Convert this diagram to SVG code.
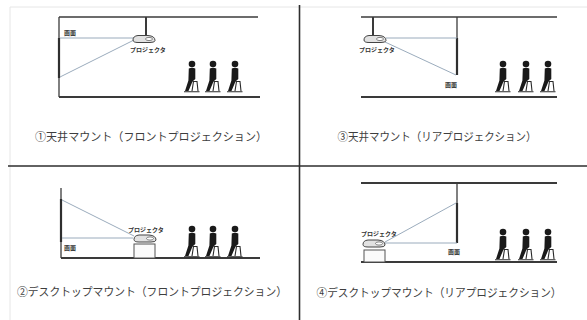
<svg xmlns="http://www.w3.org/2000/svg" xmlns:xlink="http://www.w3.org/1999/xlink" width="587" height="320" viewBox="0 0 587 320">
  <style>
    .frame { stroke: #e6e6e6; stroke-width: 1; fill: none; }
    .divider { stroke: #2e2e2e; stroke-width: 1.6; fill: none; }
    .room { stroke: #3c3c3c; stroke-width: 1.3; fill: none; }
    .floor { stroke: #3a3a3a; stroke-width: 2; fill: none; }
    .screen { stroke: #2f2f2f; stroke-width: 2.2; fill: none; }
    .beam { stroke: #8ea2b4; stroke-width: 0.9; fill: none; }
    .rod { stroke: #3a3a3a; stroke-width: 2; fill: none; }
    .proj { fill: #e2e2e2; stroke: #444; stroke-width: 1; }
    .table { fill: #fbfbfb; stroke: #555; stroke-width: 1; }
    .tag { font-family: "Noto Sans CJK JP", "Noto Sans", sans-serif; font-size: 6px; fill: #333; font-weight: bold; }
    .caption { font-family: "Noto Sans CJK JP", "Noto Sans", sans-serif; font-size: 11.5px; fill: #3e3e3e; }
  </style>
  <defs>
    <!-- seated viewer facing left, origin at head centre -->
    <g id="viewer">
      <circle cx="0" cy="0" r="3.3" fill="#1a1a1a"/>
      <path d="M -3.2,4.4 Q 0,3.2 3.3,4.4 L 3.3,15 L 0.5,17.5 L -3.5,27 L -7,27 L -3.6,16.5 Z" fill="#1a1a1a"/>
      <path d="M 0.5,17.5 L 5,17.5 L 6,27 M 1.5,17.5 L 0,27 M -8,27.8 L 7.5,27.8" stroke="#2a2a2a" stroke-width="1.1" fill="none"/>
    </g>
    <g id="projector">
      <path d="M -11,1.5 Q -11,-3 -4,-3.5 L 6,-3.5 Q 11,-3 11,1 Q 11,3.5 6,3.5 L -6,3.5 Q -11,3.5 -11,1.5 Z" class="proj"/>
      <ellipse cx="-5" cy="0" rx="3.5" ry="1.6" fill="#fff" stroke="#555" stroke-width="0.7"/>
    </g>
  </defs>

  <rect x="0" y="0" width="587" height="320" fill="#ffffff"/>
  <path class="frame" d="M 10,7 L 587,7 M 10,7 L 10,320"/>

  <!-- quadrant dividers -->
  <g id="connectors">
    <line class="divider" x1="8" y1="166" x2="587" y2="166"/>
    <line class="divider" x1="299.5" y1="5" x2="299.5" y2="320"/>
  </g>

  <!-- 1: ceiling mount, front projection -->
  <g id="ceiling-front">
    <path class="room" d="M 59,17 L 258,17 M 59,17 L 59,97"/>
    <path class="floor" d="M 59,97 L 260,97"/>
    <path class="screen" d="M 59,38 L 59,78"/>
    <line class="rod" x1="146" y1="17" x2="146" y2="35"/>
    <path class="beam" d="M 60,38 L 134,38 M 134,40 L 60,77"/>
    <use xlink:href="#projector" transform="translate(144,39) scale(-1,1)"/>
    <text class="tag" x="64" y="35">画面</text>
    <text class="tag" x="148" y="52" text-anchor="middle">プロジェクタ</text>
    <use xlink:href="#viewer" x="192" y="64"/>
    <use xlink:href="#viewer" x="213" y="64"/>
    <use xlink:href="#viewer" x="235" y="64"/>
    <text class="caption" x="151" y="141" text-anchor="middle" textLength="232" lengthAdjust="spacingAndGlyphs">①天井マウント（フロントプロジェクション）</text>
  </g>

  <!-- 3: ceiling mount, rear projection -->
  <g id="ceiling-rear">
    <path class="room" d="M 361,17 L 557,17 M 457,17 L 457,75"/>
    <path class="floor" d="M 361,97 L 557,97"/>
    <path class="screen" d="M 457,38 L 457,75"/>
    <line class="rod" x1="373" y1="17" x2="373" y2="35"/>
    <path class="beam" d="M 386,38 L 457,38 M 385,42 L 456,75"/>
    <use xlink:href="#projector" transform="translate(375,39) scale(-1,1)"/>
    <text class="tag" x="377" y="52" text-anchor="middle">プロジェクタ</text>
    <text class="tag" x="451" y="87" text-anchor="middle">画面</text>
    <use xlink:href="#viewer" x="503" y="64"/>
    <use xlink:href="#viewer" x="526" y="64"/>
    <use xlink:href="#viewer" x="548" y="64"/>
    <text class="caption" x="437" y="141" text-anchor="middle" textLength="199" lengthAdjust="spacingAndGlyphs">③天井マウント（リアプロジェクション）</text>
  </g>

  <!-- 2: desktop mount, front projection -->
  <g id="desktop-front">
    <path class="room" d="M 61,188 L 61,258"/>
    <path class="floor" d="M 61,258 L 260,258"/>
    <path class="screen" d="M 61,199 L 61,242"/>
    <path class="beam" d="M 62,238 L 133,238 M 62,200 L 134,236"/>
    <rect class="table" x="134" y="244" width="21" height="14"/>
    <use xlink:href="#projector" transform="translate(145,238.5) scale(-1,1)"/>
    <text class="tag" x="64" y="250">画面</text>
    <text class="tag" x="146" y="232" text-anchor="middle">プロジェクタ</text>
    <use xlink:href="#viewer" x="192" y="229"/>
    <use xlink:href="#viewer" x="213" y="229"/>
    <use xlink:href="#viewer" x="235" y="229"/>
    <text class="caption" x="152" y="296" text-anchor="middle" textLength="270" lengthAdjust="spacingAndGlyphs">②デスクトップマウント（フロントプロジェクション）</text>
  </g>

  <!-- 4: desktop mount, rear projection -->
  <g id="desktop-rear">
    <path class="floor" d="M 361,183 L 557,183"/>
    <path class="room" d="M 457,183 L 457,243"/>
    <path class="screen" d="M 457,203 L 457,243"/>
    <path class="floor" d="M 361,262 L 557,262"/>
    <path class="beam" d="M 385,243 L 457,243 M 385,242 L 456,203"/>
    <rect class="table" x="364" y="250" width="21" height="12"/>
    <use xlink:href="#projector" transform="translate(374,243.5) scale(-1,1)"/>
    <text class="tag" x="379" y="236" text-anchor="middle">プロジェクタ</text>
    <text class="tag" x="454" y="254" text-anchor="middle">画面</text>
    <use xlink:href="#viewer" x="503" y="232"/>
    <use xlink:href="#viewer" x="526" y="232"/>
    <use xlink:href="#viewer" x="548" y="232"/>
    <text class="caption" x="439" y="297" text-anchor="middle" textLength="245" lengthAdjust="spacingAndGlyphs">④デスクトップマウント（リアプロジェクション）</text>
  </g>
</svg>
